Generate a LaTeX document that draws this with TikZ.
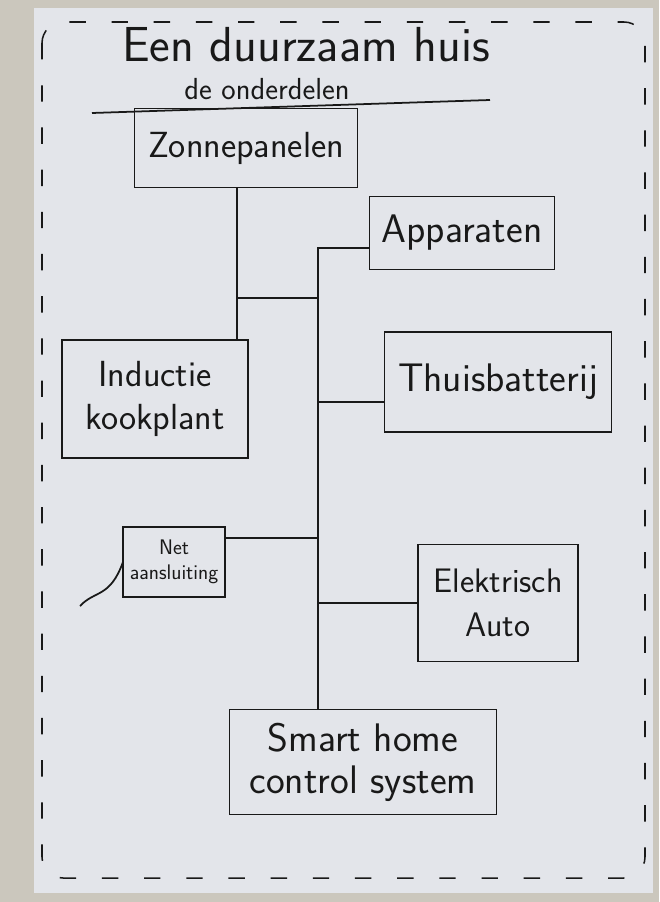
\documentclass[tikz,border=0pt]{standalone}
\usepackage{tikz}
\usetikzlibrary{calc}
\definecolor{paper}{RGB}{227,229,234}
\definecolor{desk}{RGB}{203,199,189}
\definecolor{pen}{RGB}{25,25,25}

\begin{document}
\begin{tikzpicture}[
x=0.03cm, y=-0.03cm, % one unit per pixel of the sketch, y runs down
line width=1.5pt,
every node/.style={font=\sffamily, text=pen},
part/.style 2 args={draw=pen, inner sep=0pt, outer sep=0pt, align=center, font=\sffamily\fontsize{#1}{#2}\selectfont},
wire/.style={draw=pen, line width=1.5pt}
]
\useasboundingbox (0,0) rectangle (659,902);

% ================= Sheet =================
\fill[desk] (0,0) rectangle (659,902);
\fill[paper] (34,8) rectangle (653,893);
\draw[pen, line width=1.3pt, dash pattern=on 14pt off 22pt, rounded corners=18pt] (42,22) rectangle (645,878);

% ================= Heading =================
\node (title) at (306,45) {\fontsize{42}{46}\selectfont Een duurzaam huis};
\node (sub) at (267,89) {\fontsize{26}{30}\selectfont de onderdelen};
\coordinate (rule-l) at (92,113);
\coordinate (rule-r) at (490,100);
\draw[wire] (rule-l) -- (rule-r);

% ================= Nodes (Onderdelen) =================

% Top source
\node[part={31}{35}, minimum width=6.69cm, minimum height=2.37cm] (zon) at (246,148) {Zonnepanelen};

% Left side
\node[part={31}{36}, minimum width=5.58cm, minimum height=3.54cm] (ind) at (155,399) {Inductie\\kookplant};
\node[part={18}{21}, minimum width=3.06cm, minimum height=2.1cm] (net) at (174,562) {Net\\aansluiting};

% Right side
\node[part={34}{38}, minimum width=5.55cm, minimum height=2.19cm] (app) at (462,233) {Apparaten};
\node[part={34}{38}, minimum width=6.81cm, minimum height=3.0cm] (bat) at (498,382) {Thuisbatterij};
\node[part={29}{38}, minimum width=4.8cm, minimum height=3.51cm] (elk) at (498,603) {Elektrisch\\Auto};

% Bottom
\node[part={34}{36}, minimum width=8.01cm, minimum height=3.15cm] (smart) at (363,762) {Smart home\\control system};

% ================= Edges =================

% Zonnepanelen down to the kookplant, branching to the spine
\coordinate (kruis) at (237,298);
\draw[wire] (zon.south -| kruis) -- (ind.north -| kruis);

% Central spine from Apparaten down to the control system
\coordinate (sptop) at (318,248);
\draw[wire] (app.west |- sptop) -- (sptop) -- (smart.north -| sptop);
\draw[wire] (kruis) -- (kruis -| sptop);

% Branches off the spine
\coordinate (bat-in) at ($(bat.south west)!0.3!(bat.north west)$);
\draw[wire] (bat-in) -- (bat-in -| sptop);
\coordinate (net-out) at ($(net.north east)!0.16!(net.south east)$);
\draw[wire] (net-out) -- (net-out -| sptop);
\draw[wire] (elk.west) -- (elk.west -| sptop);

% Grid cable leaving the net connection
\coordinate (stekker) at (80,606);
\draw[wire] (net.west) .. controls (110,598) and (95,590) .. (stekker);

\end{tikzpicture}
\end{document}
